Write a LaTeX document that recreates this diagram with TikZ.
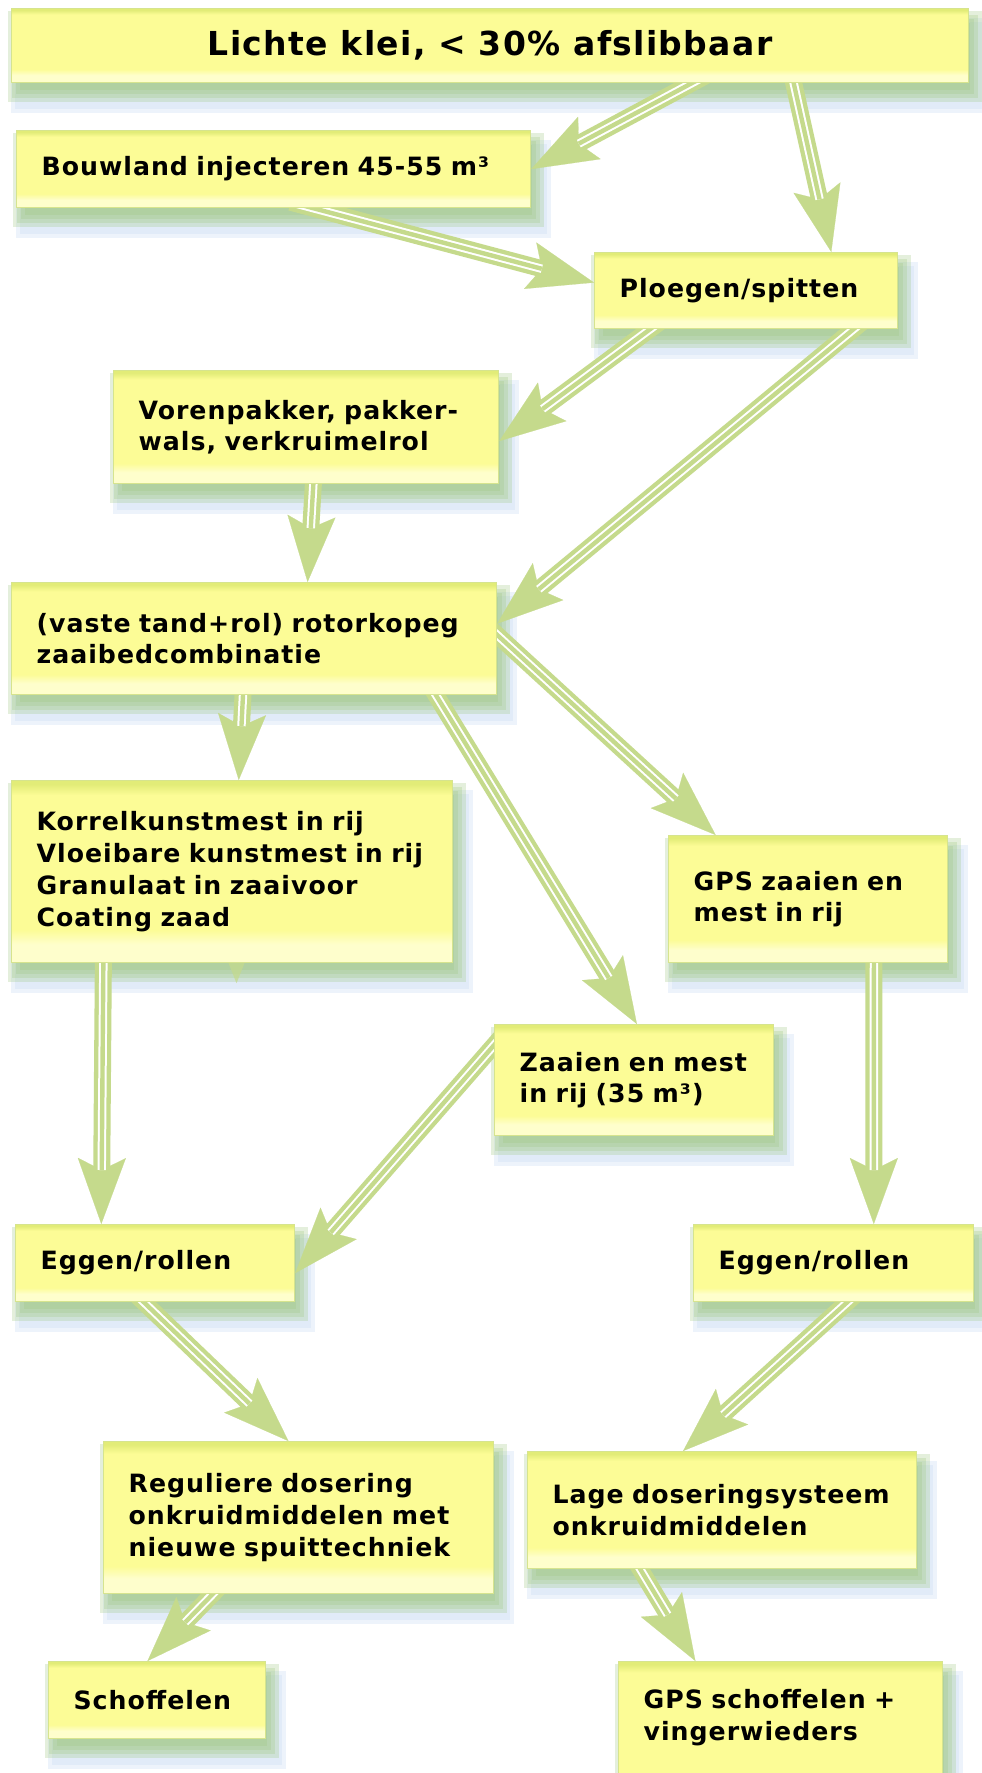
\documentclass[tikz,border=0pt]{standalone}
\usepackage{fontspec}
\setmainfont{DejaVu Sans}[LetterSpace=4.0]
\usetikzlibrary{arrows.meta,calc,backgrounds}
\definecolor{boxbody}{RGB}{252,252,150}
\definecolor{boxlow}{RGB}{254,254,204}
\definecolor{boxtop}{RGB}{226,236,120}
\definecolor{boxline}{RGB}{214,228,142}
\definecolor{flowgreen}{RGB}{197,218,140}
\definecolor{shadowgreen}{RGB}{160,200,130}
\definecolor{shadowblue}{RGB}{205,222,245}
\pgfdeclareverticalshading{boxfill}{100bp}{color(0bp)=(boxlow); color(25bp)=(boxlow); color(30bp)=(boxlow); color(34bp)=(boxbody); color(71bp)=(boxbody); color(74bp)=(boxtop); color(100bp)=(boxtop)}
\pgfdeclarelayer{flows}
\pgfsetlayers{background,flows,main}
\tikzset{
  box/.style={draw=boxline, line width=0.6pt, shading=boxfill, anchor=north west,
    align=left, inner xsep=12.5pt, inner ysep=0pt,
    font=\bfseries\fontsize{12.6pt}{15.85pt}\selectfont},
  flow/.style={draw=flowgreen, line width=8.5pt,
    -{Stealth[length=33pt,width=24pt,inset=6pt,line width=0.1pt]},
    postaction={draw=white, -, line width=1pt, double=flowgreen,
      double distance=2.2pt, shorten >=27pt}},
}
\begin{document}
\begin{tikzpicture}[x=0.5pt,y=-0.5pt]
  \useasboundingbox (0,0) rectangle (981,1773);
  % boxes
  \node[box, minimum width=478.5pt, minimum height=37pt, align=center,
    font=\bfseries\fontsize{16.5pt}{19pt}\selectfont] (title) at (11,8) {Lichte klei, < 30\% afslibbaar};
  \node[box, text width=232pt, minimum height=38.5pt] (bouwland) at (16,130) {Bouwland injecteren 45-55 m³};
  \node[box, text width=126.5pt, minimum height=38pt] (ploegen) at (594,252) {Ploegen/spitten};
  \node[box, text width=167.5pt, minimum height=56.5pt] (voren) at (113,370) {Vorenpakker, pakker-\\wals, verkruimelrol};
  \node[box, text width=217.5pt, minimum height=56pt] (vaste) at (11,582) {(vaste tand+rol) rotorkopeg\\zaaibedcombinatie};
  \node[box, text width=195.5pt, minimum height=91pt] (korrel) at (11,780) {Korrelkunstmest in rij\\Vloeibare kunstmest in rij\\Granulaat in zaaivoor\\Coating zaad};
  \node[box, text width=114.5pt, minimum height=63.5pt] (gpszaai) at (668,835) {GPS zaaien en\\mest in rij};
  \node[box, text width=114.5pt, minimum height=55.5pt] (zaaien) at (494,1024) {Zaaien en mest\\in rij (35 m³)};
  \node[box, text width=114.5pt, minimum height=38.5pt] (eggenL) at (15,1224) {Eggen/rollen};
  \node[box, text width=115pt, minimum height=38.5pt] (eggenR) at (693,1224) {Eggen/rollen};
  \node[box, text width=170pt, minimum height=76pt] (regul) at (103,1441) {Reguliere dosering\\onkruidmiddelen met\\nieuwe spuittechniek};
  \node[box, text width=169.5pt, minimum height=58.5pt] (lage) at (527,1451) {Lage doseringsysteem\\onkruidmiddelen};
  \node[box, text width=83.5pt, minimum height=38.5pt] (schoff) at (48,1661) {Schoffelen};
  \node[box, text width=137pt, minimum height=69pt] (gpsschoff) at (618,1661) {GPS schoffelen +\\vingerwieders\\\mbox{}};
  % shadows
  \begin{pgfonlayer}{background}
    \fill[white] (0,0) rectangle (981,1773);
    \foreach \n in {title,bouwland,ploegen,voren,vaste,korrel,gpszaai,zaaien,eggenL,eggenR,regul,lage,schoff,gpsschoff}{
      \foreach \g in {10,6}
        \fill[shadowblue, opacity=.35] ([shift={(10-\g,20-\g)}]\n.north west) rectangle ([shift={(10+\g,20+\g)}]\n.south east);
      \foreach \g in {8,4,0,-4}
        \fill[shadowgreen, opacity=.28] ([shift={(5-\g,11-\g)}]\n.north west) rectangle ([shift={(5+\g,11+\g)}]\n.south east);
    }
  \end{pgfonlayer}
  % connectors
  \begin{pgfonlayer}{flows}
    \draw[flow] ([yshift=4pt]$(title.south west)!.726!(title.south east)$) -- (bouwland.east);
    \draw[flow] ([yshift=4pt]$(title.south west)!.815!(title.south east)$) -- ($(ploegen.north west)!.78!(ploegen.north east)$);
    \draw[flow] ([yshift=3pt]$(bouwland.south west)!.533!(bouwland.south east)$) -- ([yshift=4pt]ploegen.west);
    \draw[flow] ([yshift=4pt]$(ploegen.south west)!.22!(ploegen.south east)$) -- ([yshift=-7pt]voren.east);
    \draw[flow] ([yshift=4pt]$(ploegen.south west)!.885!(ploegen.south east)$) -- ([yshift=7.5pt]vaste.east);
    \draw[flow] ([yshift=4pt]$(voren.south west)!.52!(voren.south east)$) -- ($(vaste.north west)!.61!(vaste.north east)$);
    \draw[flow] ([yshift=4pt]$(vaste.south west)!.478!(vaste.south east)$) -- ($(korrel.north west)!.515!(korrel.north east)$);
    \draw[flow] ([yshift=4pt]$(vaste.south west)!.864!(vaste.south east)$) -- ($(zaaien.north west)!.51!(zaaien.north east)$);
    \draw[flow] ([xshift=-4pt,yshift=5.5pt]vaste.east) -- ($(gpszaai.north west)!.17!(gpszaai.north east)$);
    \draw[flow] ([yshift=4pt]$(korrel.south west)!.209!(korrel.south east)$) -- ($(eggenL.north west)!.308!(eggenL.north east)$);
    \draw[flow] ([xshift=4pt,yshift=-6pt]zaaien.north west) -- ([yshift=-5pt]eggenL.east);
    \draw[flow] ([yshift=4pt]$(gpszaai.south west)!.735!(gpszaai.south east)$) -- ($(eggenR.north west)!.643!(eggenR.north east)$);
    \draw[flow] ([yshift=4pt]$(eggenL.south west)!.43!(eggenL.south east)$) -- ($(regul.north west)!.474!(regul.north east)$);
    \draw[flow] ([yshift=4pt]$(eggenR.south west)!.58!(eggenR.south east)$) -- ($(lage.north west)!.40!(lage.north east)$);
    \draw[flow] ([yshift=4pt]$(regul.south west)!.30!(regul.south east)$) -- ($(schoff.north west)!.456!(schoff.north east)$);
    \draw[flow] ([yshift=4pt]$(lage.south west)!.278!(lage.south east)$) -- ($(gpsschoff.north west)!.238!(gpsschoff.north east)$);
    \fill[flowgreen, opacity=.7] ($(korrel.south west)!.492!(korrel.south east)$) -- ($(korrel.south west)!.528!(korrel.south east)$) -- ([yshift=-10pt]$(korrel.south west)!.51!(korrel.south east)$) -- cycle;
  \end{pgfonlayer}
\end{tikzpicture}
\end{document}
